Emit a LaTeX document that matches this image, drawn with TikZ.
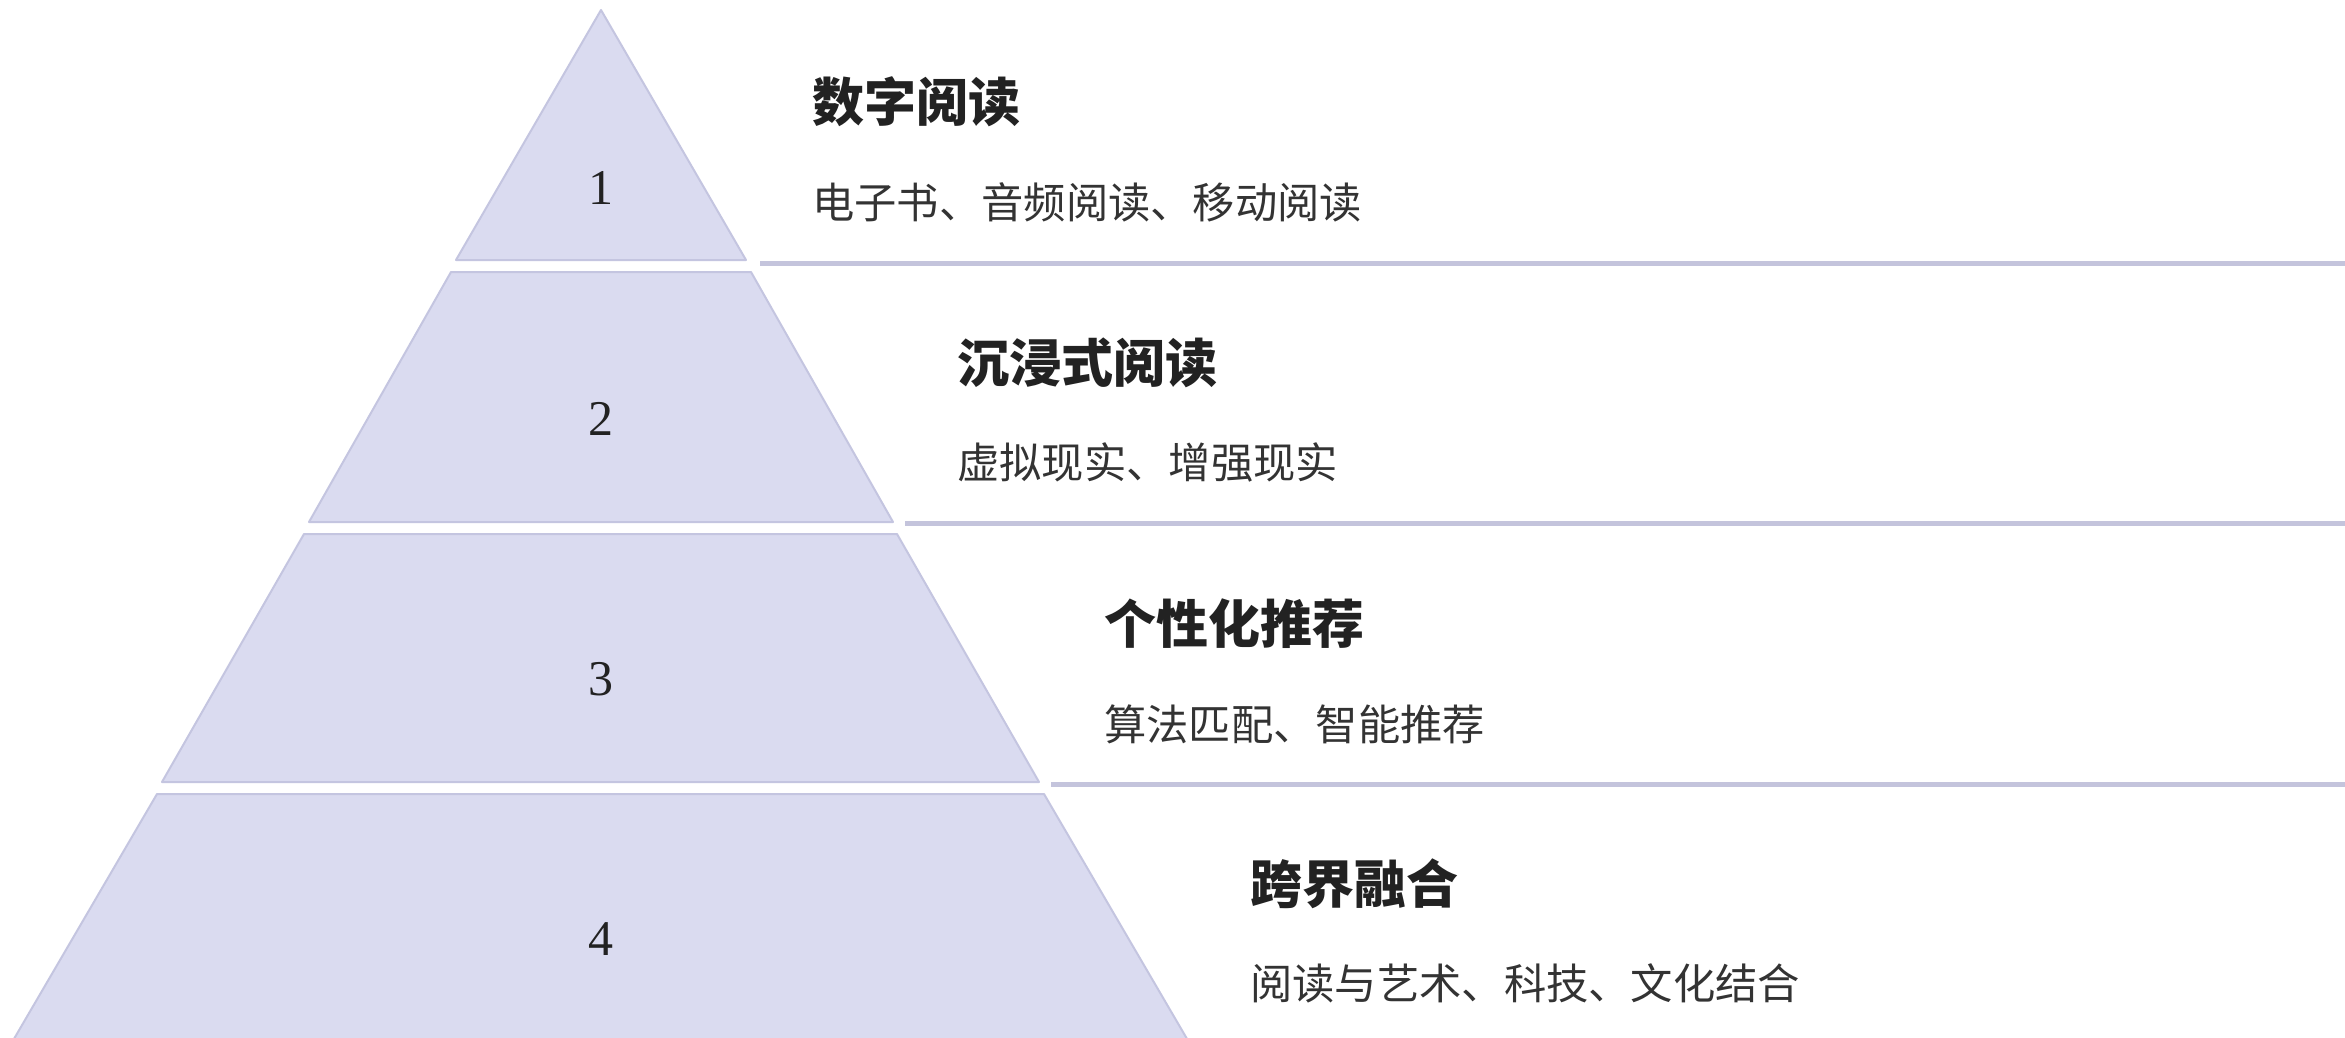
\documentclass[tikz,border=0pt]{standalone}
\usepackage{fontspec}
\setmainfont{Liberation Serif}
\newfontfamily\cjk{Noto Sans CJK SC}
\definecolor{tierfill}{HTML}{DADBF0}
\definecolor{tierdraw}{HTML}{C4C5E0}
\definecolor{rulecol}{HTML}{C4C4DC}
\definecolor{titlecol}{HTML}{222222}
\definecolor{subcol}{HTML}{333333}
\begin{document}
\begin{tikzpicture}[x=1pt,y=-1pt,
  tier/.style={fill=tierfill,draw=tierdraw,line width=2pt,line join=round},
  sepline/.style={draw=rulecol,line width=5pt},
  num/.style={font=\fontsize{50}{56}\selectfont,text=titlecol,inner sep=0},
  ttl/.style={anchor=west,font=\cjk\bfseries\fontsize{52}{60}\selectfont,text=titlecol,inner sep=0},
  sub/.style={anchor=west,font=\cjk\fontsize{42.3}{50}\selectfont,text=subcol,inner sep=0}]
\useasboundingbox[fill=white] (0,0) rectangle (2345,1038);
\begin{scope}
\clip (0,0) rectangle (2345,1038);
% tiers
\path[tier] (601,10) -- (746,260) -- (456,260) -- cycle;
\path[tier] (451,272) -- (751,272) -- (893,522) -- (309,522) -- cycle;
\path[tier] (304,534) -- (897,534) -- (1039,782) -- (162,782) -- cycle;
\path[tier] (157,794) -- (1044,794) -- (1190,1044) -- (11,1044) -- cycle;
% separator lines
\coordinate (l1a) at (760,263); \coordinate (l1b) at (2345,263);
\coordinate (l2a) at (905,523); \coordinate (l2b) at (2345,523);
\coordinate (l3a) at (1051,784); \coordinate (l3b) at (2345,784);
\draw[sepline] (l1a) -- (l1b);
\draw[sepline] (l2a) -- (l2b);
\draw[sepline] (l3a) -- (l3b);
\end{scope}
% numbers
\node[num] (n1) at (601,188) {1};
\node[num] (n2) at (601,419) {2};
\node[num] (n3) at (601,679) {3};
\node[num] (n4) at (601,939) {4};
% titles and descriptions
\node[ttl] (t1) at (812,102) {数字阅读};
\node[sub] (s1) at (812,202) {电子书、音频阅读、移动阅读};
\node[ttl] (t2) at (957,363) {沉浸式阅读};
\node[sub] (s2) at (957,462) {虚拟现实、增强现实};
\node[ttl] (t3) at (1104,624) {个性化推荐};
\node[sub] (s3) at (1104,724) {算法匹配、智能推荐};
\node[ttl] (t4) at (1250,884) {跨界融合};
\node[sub] (s4) at (1250,983) {阅读与艺术、科技、文化结合};
\end{tikzpicture}
\end{document}
